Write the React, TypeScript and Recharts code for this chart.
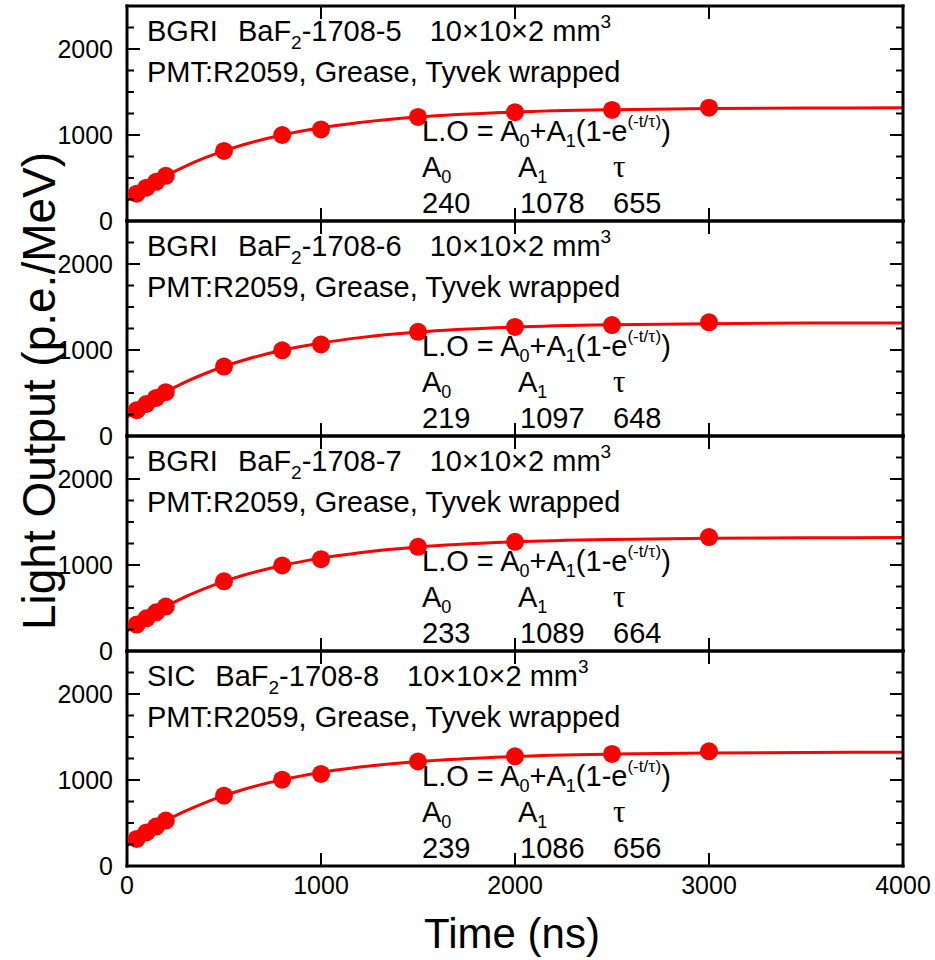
import { ComposedChart, Line, XAxis, YAxis } from 'recharts';

const FONT = '"Liberation Sans", Arial, Helvetica, sans-serif';
const SERIF = '"Liberation Serif", "DejaVu Serif", serif';
const RED = '#ff0000';

// measured light output (p.e./MeV) vs integration time (ns)
const sampleTimes = [50, 100, 150, 200, 500, 800, 1000, 1500, 2000, 2500, 3000];
const lo5 = [318, 388, 455, 525, 815, 1000, 1065, 1210, 1265, 1292, 1318];
const lo6 = [300, 372, 442, 510, 808, 996, 1065, 1212, 1268, 1290, 1322];
const lo7 = [308, 380, 450, 516, 810, 995, 1068, 1212, 1270, null, 1325];
const lo8 = [315, 390, 458, 528, 818, 1004, 1070, 1215, 1276, 1303, 1333];

// fitted curves
const fitTimes = [0, 100, 200, 300, 400, 500, 600, 800, 1000, 1200, 1500, 2000, 2500, 3000, 3500, 4000];
const fit5 = [240, 393, 524, 636, 733, 816, 887, 1000, 1084, 1145, 1209, 1267, 1294, 1307, 1313, 1316];
const fit6 = [219, 376, 510, 626, 724, 809, 881, 997, 1081, 1144, 1208, 1266, 1293, 1305, 1313, 1314];
const fit7 = [233, 385, 516, 629, 725, 809, 881, 995, 1080, 1143, 1209, 1269, 1297, 1310, 1316, 1319];
const fit8 = [239, 392, 525, 637, 735, 818, 890, 1004, 1088, 1150, 1215, 1274, 1301, 1314, 1320, 1323];

const materials = ['BGRI', 'BGRI', 'BGRI', 'SIC'];
const sampleIds = ['1708-5', '1708-6', '1708-7', '1708-8'];
const a0Values = [240, 219, 233, 239];
const a1Values = [1078, 1097, 1089, 1086];
const tauValues = [655, 648, 664, 656];

const xTicks = [0, 1000, 2000, 3000, 4000];
const yTicks = [0, 250, 500, 750, 1000, 1250, 1500, 1750, 2000, 2250, 2500];

const measured = [lo5, lo6, lo7, lo8];
const fits = [fit5, fit6, fit7, fit8];

const PANEL_TOP = 6;
const PANEL_H = 215;
const TOP_PAD = 30;
const BOTTOM_PAD = 40;
const LEFT_W = 127;
const RIGHT_W = 32;
const WIDTH = 935;

const axisLine = { stroke: '#000', strokeWidth: 3, strokeLinecap: 'square' as const };

const tickLen = (v: number) => (v % 1000 === 0 ? 13 : 7);

const LeftTick = (p: any) => {
  const v = p.payload.value;
  return (
    <g>
      <line x1={p.x} y1={p.y} x2={p.x + tickLen(v)} y2={p.y} stroke="#000" strokeWidth={2} />
      {v % 1000 === 0 && v < 2500 && (
        <text x={p.x - 14} y={p.y} textAnchor="end" dominantBaseline="central" fontSize={25} fill="#000">
          {v}
        </text>
      )}
    </g>
  );
};

const RightTick = (p: any) => {
  const v = p.payload.value;
  return <line x1={p.x} y1={p.y} x2={p.x - tickLen(v)} y2={p.y} stroke="#000" strokeWidth={2} />;
};

const BottomTick = (p: any, showLabel: boolean) => {
  const v = p.payload.value;
  const inner = v > 0 && v < 4000;
  return (
    <g>
      {inner && <line x1={p.x} y1={p.y} x2={p.x} y2={p.y - 13} stroke="#000" strokeWidth={2} />}
      {showLabel && (
        <text x={p.x} y={p.y + 28} textAnchor="middle" fontSize={25} fill="#000">
          {v}
        </text>
      )}
    </g>
  );
};

const TopTick = (p: any) => {
  const v = p.payload.value;
  if (v <= 0 || v >= 4000) return <g />;
  return <line x1={p.x} y1={p.y} x2={p.x} y2={p.y + 13} stroke="#000" strokeWidth={2} />;
};

const Panel = ({ index }: { index: number }) => {
  const last = index === 3;
  const pointData = sampleTimes.map((t, i) => ({ t, lo: measured[index][i] }));
  const fitData = fitTimes.map((t, i) => ({ t, lo: fits[index][i] }));
  return (
    <div style={{ position: 'absolute', left: 0, top: PANEL_TOP + index * PANEL_H - TOP_PAD }}>
      <ComposedChart
        width={WIDTH}
        height={TOP_PAD + PANEL_H + BOTTOM_PAD}
        margin={{ top: 0, right: 0, bottom: 0, left: 0 }}
      >
        <XAxis
          xAxisId="b"
          type="number"
          dataKey="t"
          domain={[0, 4000]}
          ticks={xTicks}
          interval={0}
          height={BOTTOM_PAD}
          tickSize={0}
          tickMargin={0}
          tickLine={false}
          axisLine={axisLine}
          tick={(p: any) => BottomTick(p, last)}
        />
        <XAxis
          xAxisId="t"
          orientation="top"
          type="number"
          dataKey="t"
          domain={[0, 4000]}
          ticks={xTicks}
          interval={0}
          height={TOP_PAD}
          tickSize={0}
          tickMargin={0}
          tickLine={false}
          axisLine={axisLine}
          tick={TopTick}
        />
        <YAxis
          yAxisId="l"
          type="number"
          domain={[0, 2500]}
          ticks={yTicks}
          interval={0}
          width={LEFT_W}
          tickSize={0}
          tickMargin={0}
          tickLine={false}
          axisLine={axisLine}
          tick={LeftTick}
        />
        <YAxis
          yAxisId="r"
          orientation="right"
          type="number"
          domain={[0, 2500]}
          ticks={yTicks}
          interval={0}
          width={RIGHT_W}
          tickSize={0}
          tickMargin={0}
          tickLine={false}
          axisLine={axisLine}
          tick={RightTick}
        />
        <Line
          xAxisId="b"
          yAxisId="l"
          data={fitData}
          dataKey="lo"
          type="monotone"
          stroke={RED}
          strokeWidth={3}
          dot={false}
          activeDot={false}
          isAnimationActive={false}
        />
        <Line
          xAxisId="t"
          yAxisId="r"
          data={pointData}
          dataKey="lo"
          stroke="none"
          dot={{ r: 9, fill: RED, stroke: 'none' }}
          activeDot={false}
          isAnimationActive={false}
        />
      </ComposedChart>
    </div>
  );
};

const Annotation = ({ index }: { index: number }) => {
  const top = PANEL_TOP + index * PANEL_H;
  return (
    <g fill="#000" fontSize={29}>
      <text x={147} y={top + 35}>
        <tspan>{materials[index]}</tspan>
        <tspan dx={20}>BaF</tspan>
        <tspan dy={8} fontSize={19}>2</tspan>
        <tspan dy={-8}>-{sampleIds[index]}</tspan>
        <tspan dx={28}>10×10×2 mm</tspan>
        <tspan dy={-13} fontSize={19}>3</tspan>
      </text>
      <text x={147} y={top + 76}>PMT:R2059, Grease, Tyvek wrapped</text>
      <text x={422} y={top + 135}>
        <tspan>L.O = A</tspan>
        <tspan dy={6} fontSize={18}>0</tspan>
        <tspan dy={-6}>+A</tspan>
        <tspan dy={6} fontSize={18}>1</tspan>
        <tspan dy={-6}>(1-e</tspan>
        <tspan dy={-14} fontSize={17}>(-t/</tspan>
        <tspan fontSize={18} fontFamily={SERIF}>τ</tspan>
        <tspan fontSize={17}>)</tspan>
        <tspan dy={14}>)</tspan>
      </text>
      <text x={422} y={top + 171}>
        <tspan>A</tspan>
        <tspan dy={6} fontSize={18}>0</tspan>
      </text>
      <text x={518} y={top + 171}>
        <tspan>A</tspan>
        <tspan dy={6} fontSize={18}>1</tspan>
      </text>
      <text x={613} y={top + 171} fontFamily={SERIF} fontSize={31}>τ</text>
      <text x={422} y={top + 207}>{a0Values[index]}</text>
      <text x={520} y={top + 207}>{a1Values[index]}</text>
      <text x={613} y={top + 207}>{tauValues[index]}</text>
    </g>
  );
};

export default function App() {
  const panels = [0, 1, 2, 3];
  return (
    <div
      style={{
        position: 'absolute',
        left: 0,
        top: 0,
        width: WIDTH,
        height: 960,
        background: '#fff',
        fontFamily: FONT,
        overflow: 'hidden',
      }}
    >
      {panels.map((i) => (
        <Panel key={i} index={i} />
      ))}
      <svg
        width={WIDTH}
        height={960}
        style={{ position: 'absolute', left: 0, top: 0, pointerEvents: 'none', fontFamily: FONT }}
      >
        {panels.map((i) => (
          <Annotation key={i} index={i} />
        ))}
        <text x={55} y={391} fontSize={46} textAnchor="middle" transform="rotate(-90 55 391)">
          Light Output (p.e./MeV)
        </text>
        <text x={512} y={948} fontSize={42} textAnchor="middle">
          Time (ns)
        </text>
      </svg>
    </div>
  );
}
